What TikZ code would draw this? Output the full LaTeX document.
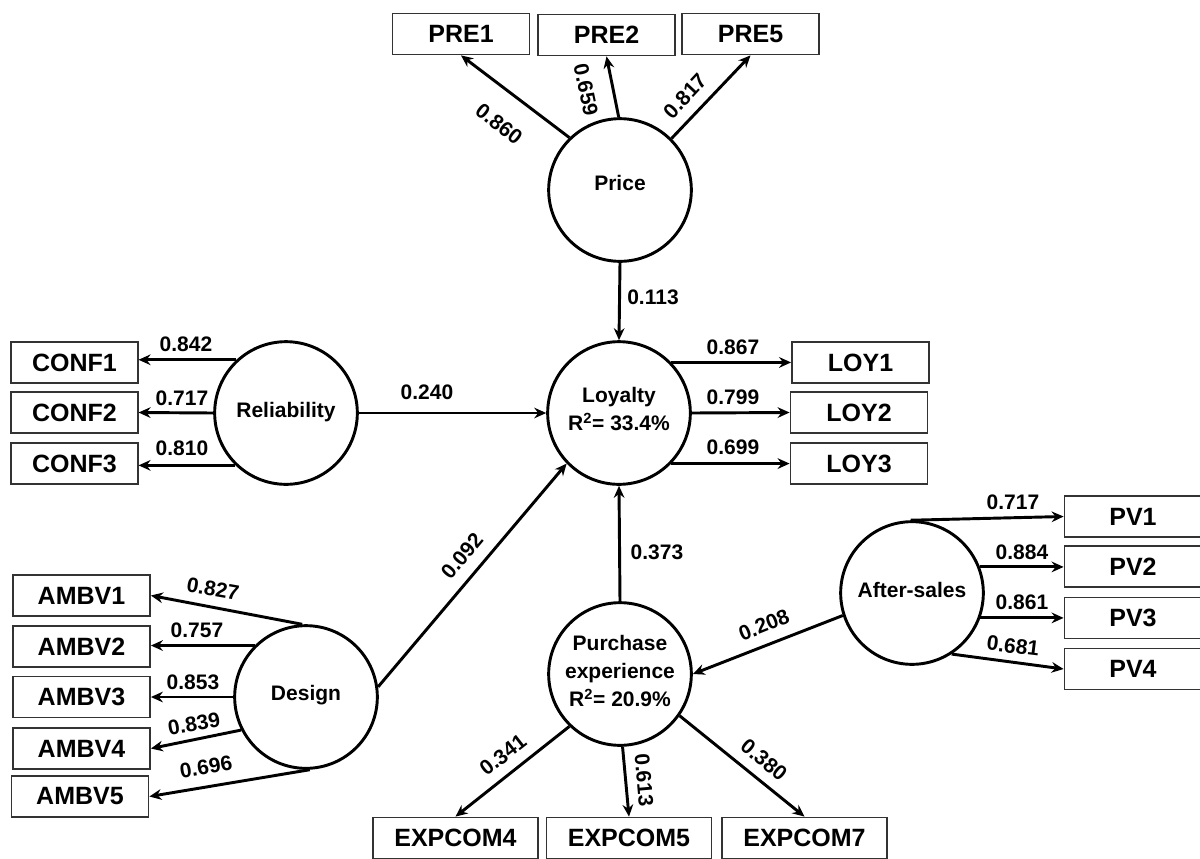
\documentclass[tikz,border=0pt]{standalone}
\usepackage{fontspec}
\setmainfont{Liberation Sans}
\usetikzlibrary{arrows.meta}
\begin{document}
\begin{tikzpicture}[x=0.75pt,y=-0.75pt,
  box/.style={draw=black!80, line width=1.1pt, minimum height=31pt, inner sep=0pt, font=\fontsize{18.75}{20}\selectfont\bfseries},
  bw/.style={minimum width=103pt},
  bwc/.style={minimum width=95pt},
  bwe/.style={minimum width=124pt},
  lv/.style={circle, draw, line width=2.2pt, minimum size=107pt, inner sep=0pt, align=center, font=\fontsize{15.75}{21}\selectfont\bfseries},
  arr/.style={line width=2.2pt, -{Stealth[length=9pt,width=8pt,inset=3pt]}},
  lbl/.style={font=\fontsize{15.75}{18}\selectfont\bfseries, inner sep=0pt},
]
\useasboundingbox (0,0) rectangle (1200,858);
\fill[white] (0,0) rectangle (1200,858);

% latent variables
\node[lv, text depth=10pt] (price) at (620,190) {Price};
\node[lv, text depth=6pt] (loy) at (619,413) {Loyalty\\R\textsuperscript{2}= 33.4\%};
\node[lv, text depth=5pt] (rel) at (286,413) {Reliability};
\node[lv, text depth=6pt] (des) at (306,697) {Design};
\node[lv, text depth=4pt] (pe) at (620,674) {Purchase\\experience\\R\textsuperscript{2}= 20.9\%};
\node[lv, text depth=5pt] (as) at (912,593) {After-sales};

% indicators
\node[box,bw] (pre1) at (461,34) {PRE1};
\node[box,bw] (pre2) at (606.5,35) {PRE2};
\node[box,bw] (pre5) at (750.5,34) {PRE5};
\node[box,bwc] (conf1) at (74.5,362.5) {CONF1};
\node[box,bwc] (conf2) at (74.5,412.5) {CONF2};
\node[box,bwc] (conf3) at (74.5,463.5) {CONF3};
\node[box,bw] (loy1) at (860.5,362.5) {LOY1};
\node[box,bw] (loy2) at (859,412.5) {LOY2};
\node[box,bw] (loy3) at (859,463.5) {LOY3};
\node[box,bw] (ambv1) at (81.5,595.5) {AMBV1};
\node[box,bw] (ambv2) at (81.5,646.5) {AMBV2};
\node[box,bw] (ambv3) at (81.5,697) {AMBV3};
\node[box,bw] (ambv4) at (81.5,748.5) {AMBV4};
\node[box,bw] (ambv5) at (80,796.5) {AMBV5};
\node[box,bw] (pv1) at (1133,516.5) {PV1};
\node[box,bw] (pv2) at (1133,566.5) {PV2};
\node[box,bw] (pv3) at (1133,618) {PV3};
\node[box,bw] (pv4) at (1133,669) {PV4};
\node[box,bwe] (exp4) at (455.5,838) {EXPCOM4};
\node[box,bwe] (exp5) at (629,838) {EXPCOM5};
\node[box,bwe] (exp7) at (804.5,838) {EXPCOM7};

% price
\draw[arr] (price.134) -- (pre1.south);
\draw[arr] (price.91) -- (pre2.south);
\draw[arr] (price.45) -- (pre5.south);
\draw[arr] (price.south) -- (loy.north);
% reliability
\draw[arr] (rel.133) -- (rel.133 -| conf1.east);
\draw[arr] (rel.west) -- (conf2.east);
\draw[arr] (rel.226) -- (rel.226 -| conf3.east);
\draw[arr] (rel.east) -- (loy.west);
% loyalty
\draw[arr] (loy.44) -- (loy.44 -| loy1.west);
\draw[arr] (loy.east) -- (loy2.west);
\draw[arr] (loy.-44) -- (loy.-44 -| loy3.west);
% design
\draw[arr] (des.93) -- (ambv1.east);
\draw[arr] (des.135) -- (des.135 -| ambv2.east);
\draw[arr] (des.west) -- (ambv3.east);
\draw[arr] (des.207) -- (ambv4.east);
\draw[arr] (des.273) -- (ambv5.east);
\draw[arr] (des.8) -- (loy.224);
% purchase experience
\draw[arr] (pe.north) -- (loy.south);
\draw[arr] (pe.226) -- (exp4.north);
\draw[arr] (pe.272) -- (exp5.north);
\draw[arr] (pe.-35) -- (exp7.north);
% after-sales
\draw[arr] (as.198) -- (pe.east);
\draw[arr] (as.91) -- (pv1.west);
\draw[arr] (as.21) -- (as.21 -| pv2.west);
\draw[arr] (as.-20) -- (as.-20 -| pv3.west);
\draw[arr] (as.-57) -- (pv4.west);

% labels
\node[lbl,rotate=-38] (l1) at (499,124) {0.860};
\node[lbl,rotate=-78] (l2) at (586,90) {0.659};
\node[lbl,rotate=47] (l3) at (685,96) {0.817};
\node[lbl] (l4) at (653,297) {0.113};
\node[lbl] (l5) at (186,344) {0.842};
\node[lbl] (l6) at (182,398) {0.717};
\node[lbl] (l7) at (182,448) {0.810};
\node[lbl] (l8) at (427,392) {0.240};
\node[lbl] (l9) at (733,347) {0.867};
\node[lbl] (l10) at (733,397) {0.799};
\node[lbl] (l11) at (733,447) {0.699};
\node[lbl,rotate=-10] (l12) at (213,589) {0.827};
\node[lbl] (l13) at (197,630) {0.757};
\node[lbl] (l14) at (193,682) {0.853};
\node[lbl,rotate=10] (l15) at (194,724) {0.839};
\node[lbl,rotate=9] (l16) at (206,767) {0.696};
\node[lbl,rotate=50] (l17) at (462,556) {0.092};
\node[lbl] (l18) at (657,552) {0.373};
\node[lbl,rotate=22] (l19) at (764,625) {0.208};
\node[lbl] (l20) at (1013,502) {0.717};
\node[lbl] (l21) at (1022,552) {0.884};
\node[lbl] (l22) at (1022,602) {0.861};
\node[lbl,rotate=-7] (l23) at (1013,646) {0.681};
\node[lbl,rotate=38] (l24) at (503,755) {0.341};
\node[lbl,rotate=-85] (l25) at (644,780) {0.613};
\node[lbl,rotate=-40] (l26) at (764,760) {0.380};
\end{tikzpicture}
\end{document}
